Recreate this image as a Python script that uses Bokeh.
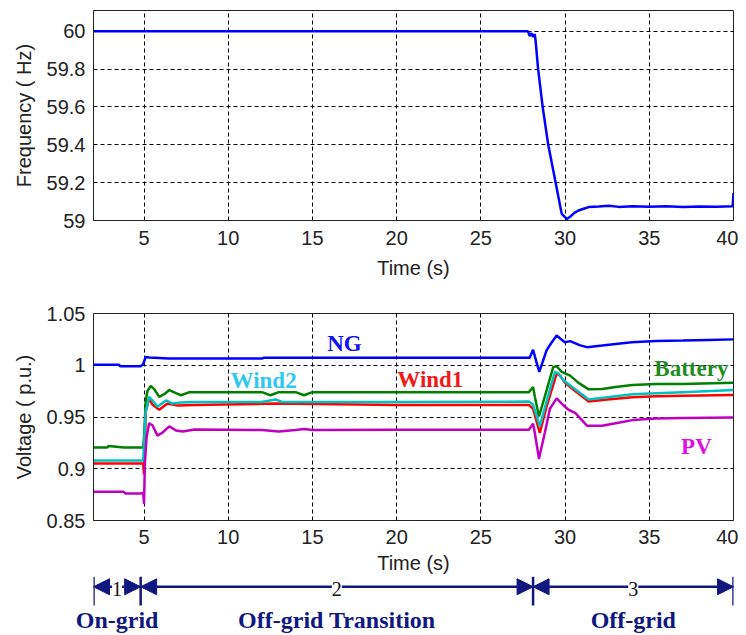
from bokeh.plotting import figure
from bokeh.models import Range1d, FixedTicker, Arrow, NormalHead, Label
from bokeh.layouts import column
from bokeh.embed import file_html
from bokeh.resources import INLINE

# ---------------- data ----------------
x_ticks = [5, 10, 15, 20, 25, 30, 35, 40]

freq_ticks = [59, 59.2, 59.4, 59.6, 59.8, 60]
freq_tick_labels = ["59", "59.2", "59.4", "59.6", "59.8", "60"]

volt_ticks = [0.85, 0.9, 0.95, 1.0, 1.05]
volt_tick_labels = ["0.85", "0.9", "0.95", "1", "1.05"]

t_freq = [2, 27.8, 27.9, 28.0, 28.1, 28.2, 28.25, 28.4, 28.67, 29.0, 29.44, 29.8,
          30.1, 30.3, 30.55, 30.8, 31.1, 31.4, 32.0, 32.6, 33.2, 34.0, 35.0, 36.0,
          37.0, 38.0, 39.0, 39.95, 40.0]
freq = [60, 60, 59.975, 59.99, 59.97, 59.985, 59.95, 59.8, 59.6, 59.4, 59.2, 59.035,
        59.008, 59.02, 59.04, 59.053, 59.062, 59.071, 59.074, 59.078, 59.072, 59.075,
        59.073, 59.075, 59.072, 59.074, 59.073, 59.075, 59.145]

t_ng = [2, 3.5, 3.6, 4.8, 4.95, 5.1, 5.3, 6.5, 12, 12.1, 20, 27.9, 28.1, 28.3, 28.47,
        28.9, 29.2, 29.5, 29.98, 30.3, 30.9, 31.3, 32.2, 33.0, 33.96, 35.4, 37, 38.5, 40]
v_ng = [1.0005, 1.0005, 0.999, 0.999, 1.001, 1.008, 1.0075, 1.0065, 1.0065, 1.0072,
        1.0072, 1.0073, 1.015, 1.003, 0.9936, 1.0144, 1.022, 1.0287, 1.0223, 1.0233,
        1.0192, 1.0175, 1.019, 1.0205, 1.0223, 1.0235, 1.024, 1.0245, 1.025]

t_bat = [2, 2.8, 2.9, 3.8, 4.95, 5.0, 5.1, 5.2, 5.4, 5.6, 5.9, 6.2, 6.5, 6.9, 7.2,
         7.7, 8.5, 12, 12.5, 13, 14, 14.5, 15, 20, 27.85, 28.1, 28.2, 28.45, 28.8,
         29.3, 29.5, 29.8, 30.3, 30.8, 31.4, 32.2, 33.0, 34.0, 35.4, 37, 40]
v_bat = [0.9205, 0.9205, 0.922, 0.9205, 0.9205, 0.93, 0.965, 0.975, 0.98, 0.977,
         0.9695, 0.972, 0.976, 0.973, 0.971, 0.974, 0.974, 0.974, 0.971, 0.974, 0.974,
         0.971, 0.974, 0.974, 0.974, 0.979, 0.97, 0.9505, 0.97, 0.9984, 0.999, 0.9936,
         0.99, 0.983, 0.9767, 0.977, 0.979, 0.981, 0.9818, 0.982, 0.983]

t_w2 = [2, 4.95, 5.0, 5.1, 5.3, 5.5, 5.8, 6.3, 6.7, 7.2, 8, 12, 12.8, 13.2, 20, 27.85,
        28.1, 28.5, 28.9, 29.4, 29.6, 29.9, 30.5, 31.4, 32.5, 34, 35.4, 37, 40]
v_w2 = [0.908, 0.908, 0.925, 0.955, 0.9695, 0.966, 0.96, 0.966, 0.963, 0.964, 0.9645,
        0.9645, 0.967, 0.9645, 0.9645, 0.9649, 0.962, 0.941, 0.965, 0.9936, 0.992,
        0.9856, 0.978, 0.967, 0.969, 0.972, 0.973, 0.974, 0.976]

t_w1 = [2, 4.95, 5.0, 5.05, 5.1, 5.3, 5.5, 5.9, 6.4, 7, 8, 12.8, 20, 27.85, 28.1,
        28.5, 28.9, 29.5, 29.7, 30.0, 30.6, 31.4, 32.5, 34, 35.4, 37, 40]
v_w1 = [0.905, 0.905, 0.8946, 0.92, 0.955, 0.968, 0.962, 0.957, 0.963, 0.961, 0.9615,
        0.963, 0.9615, 0.9617, 0.958, 0.9346, 0.96, 0.992, 0.99, 0.983, 0.975, 0.965,
        0.967, 0.969, 0.97, 0.9705, 0.9713]

t_pv = [2, 3.8, 3.9, 4.8, 4.95, 5.0, 5.05, 5.15, 5.3, 5.5, 5.8, 6.1, 6.5, 6.9, 7.3, 8,
        12, 13, 14, 14.5, 15, 20, 27.85, 28.1, 28.2, 28.45, 28.8, 29.1, 29.5, 29.8,
        30.2, 30.6, 31.3, 32.2, 33.0, 34.0, 35.4, 37, 40]
v_pv = [0.8777, 0.8777, 0.876, 0.876, 0.877, 0.866, 0.905, 0.93, 0.944, 0.942, 0.932,
        0.935, 0.941, 0.937, 0.936, 0.938, 0.9375, 0.936, 0.9375, 0.9385, 0.9375,
        0.9377, 0.9377, 0.9435, 0.935, 0.9097, 0.935, 0.958, 0.968, 0.963, 0.957,
        0.954, 0.9416, 0.9416, 0.944, 0.947, 0.9485, 0.949, 0.9495]

series_names = ["NG", "Wind2", "Wind1", "Battery", "PV"]
stage_bounds = [2, 4.8, 28.1, 40]
stage_numbers = ["1", "2", "3"]
stage_names = ["On-grid", "Off-grid Transition", "Off-grid"]

# ---------------- styling ----------------
AX_FONT = "Liberation Sans"
SERIF = "Liberation Serif"
TXT = "#222222"
NAVY = "#101880"
BLUE = "#0000FF"
GREEN = "#008000"
CYAN = "#00C0C0"
RED = "#FF0000"
MAG = "#C000C0"
LW = 2.5

W = 738
BL, BR = 93, 5          # left / right borders -> frame 93..733
X0, X1 = 2, 40


def style(p, yticks, ylabels, ylab):
    p.xaxis.ticker = FixedTicker(ticks=x_ticks)
    p.yaxis.ticker = FixedTicker(ticks=yticks)
    p.yaxis.major_label_overrides = {float(k): v for k, v in zip(yticks, ylabels)}
    p.xaxis.axis_label = "Time (s)"
    p.yaxis.axis_label = ylab
    for ax in (p.xaxis[0], p.yaxis[0]):
        ax.major_label_text_font = AX_FONT
        ax.major_label_text_font_size = "20px"
        ax.major_label_text_color = TXT
        ax.axis_label_text_font = AX_FONT
        ax.axis_label_text_font_size = "20px"
        ax.axis_label_text_font_style = "normal"
        ax.axis_label_text_color = TXT
        ax.major_tick_in = 0
        ax.major_tick_out = 0
        ax.minor_tick_line_color = None
        ax.axis_line_color = TXT
        ax.major_label_standoff = 8
    p.xaxis.major_label_standoff = 10
    p.xaxis.axis_label_standoff = 9
    p.yaxis.axis_label_standoff = 9
    for g in (p.xgrid[0], p.ygrid[0]):
        g.grid_line_color = "black"
        g.grid_line_dash = "4 3"
        g.grid_line_width = 1
    p.outline_line_color = TXT
    p.outline_line_width = 1
    p.background_fill_color = "white"
    p.border_fill_color = "white"


x_range = Range1d(X0, X1)

# ---------------- top: frequency ----------------
p1 = figure(width=W, height=288, x_range=x_range, y_range=Range1d(59, 60.11),
            output_backend="svg", toolbar_location=None,
            min_border_left=BL, min_border_right=BR, min_border_top=10, min_border_bottom=68)
style(p1, freq_ticks, freq_tick_labels, "Frequency ( Hz)")
p1.line(t_freq, freq, line_color=BLUE, line_width=LW)

# ---------------- bottom: voltage ----------------
H2 = 288
p2 = figure(width=W, height=H2, x_range=x_range, y_range=Range1d(0.85, 1.05),
            output_backend="svg", toolbar_location=None,
            min_border_left=BL, min_border_right=BR, min_border_top=25,
            min_border_bottom=H2 - 25 - 209)
style(p2, volt_ticks, volt_tick_labels, "Voltage ( p.u.)")
p2.xaxis.major_label_standoff = 9
p2.xaxis.axis_label_standoff = 5
p2.line(t_ng, v_ng, line_color=BLUE, line_width=LW)
p2.line(t_bat, v_bat, line_color=GREEN, line_width=LW)
p2.line(t_w1, v_w1, line_color=RED, line_width=LW)
p2.line(t_w2, v_w2, line_color=CYAN, line_width=LW)
p2.line(t_pv, v_pv, line_color=MAG, line_width=LW)

label_pos = {"NG": (16.9, 1.021), "Wind2": (12.1, 0.9856), "Wind1": (22.0, 0.9866),
             "Battery": (37.5, 0.997), "PV": (37.8, 0.9215)}
label_col = {"NG": "#1010F0", "Wind2": "#30C8F0", "Wind1": "#F01818",
             "Battery": "#1E8C1E", "PV": "#E010E0"}
for name in series_names:
    lx, ly = label_pos[name]
    p2.add_layout(Label(x=lx, y=ly, text=name, text_align="center", text_baseline="middle",
                        text_font=SERIF, text_font_style="bold", text_font_size="23px",
                        text_color=label_col[name]))

# ---------------- stage annotation strip ----------------
TOP3 = 288 + H2
H3 = 635 - TOP3
BB3 = 28                      # bottom border holding the stage-name labels
FB3 = TOP3 + H3 - BB3         # page row of the strip's frame bottom
stage_centers = [(stage_bounds[i] + stage_bounds[i + 1]) / 2 for i in range(3)]

p3 = figure(width=W, height=H3, x_range=x_range,
            y_range=Range1d(start=FB3, end=TOP3),   # value == page row
            output_backend="svg", toolbar_location=None, y_axis_location=None,
            min_border_left=BL, min_border_right=BR,
            min_border_top=0, min_border_bottom=BB3)
p3.grid.visible = False
p3.outline_line_color = None
p3.background_fill_color = "white"
p3.border_fill_color = "white"
ax3 = p3.xaxis[0]
ax3.ticker = FixedTicker(ticks=stage_centers)
ax3.major_label_overrides = {float(c): n for c, n in zip(stage_centers, stage_names)}
ax3.axis_line_color = None
ax3.major_tick_line_color = None
ax3.minor_tick_line_color = None
ax3.major_tick_in = 0
ax3.major_tick_out = 0
ax3.major_label_standoff = 1
ax3.major_label_text_font = SERIF
ax3.major_label_text_font_style = "bold"
ax3.major_label_text_font_size = "24px"
ax3.major_label_text_color = NAVY

Y_ARROW, Y_NUM, Y_TOP, Y_BOT = 587, 589, TOP3, 608
p3.segment(x0=stage_bounds, y0=[Y_TOP] * 4, x1=stage_bounds, y1=[Y_BOT] * 4,
           line_color=NAVY, line_width=2.5)
for i in range(3):
    a, b = stage_bounds[i], stage_bounds[i + 1]
    c = stage_centers[i]
    for e in (a, b):
        p3.add_layout(Arrow(x_start=c, x_end=e, y_start=Y_ARROW, y_end=Y_ARROW,
                            start=None,
                            end=NormalHead(size=16, fill_color=NAVY, line_color=NAVY),
                            line_color=NAVY, line_width=2.5))
    p3.add_layout(Label(x=c, y=Y_NUM, text=stage_numbers[i],
                        text_align="center", text_baseline="middle", text_font=SERIF,
                        text_font_size="20px", text_color="#111111",
                        background_fill_color="white"))

layout = column(p1, p2, p3)
open("out.html", "w").write(file_html(layout, INLINE))
